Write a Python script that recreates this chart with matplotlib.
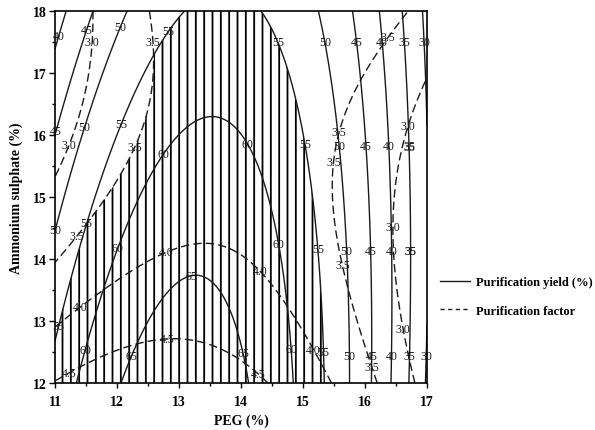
import numpy as np
import matplotlib
matplotlib.use("Agg")
import matplotlib.pyplot as plt
from matplotlib.lines import Line2D

plt.rcParams['font.family'] = ['Liberation Serif', 'DejaVu Serif']

# response surface coefficients read from the contour map
# order: b0, b_peg, b_as, b_peg^2, b_as^2, b_peg*as  (centred variables)
yield_center = [13.4, 15.0]
yield_coef = [62.7, 0.0, -1.95, -2.5, -0.126, 0.51]
factor_center = [13.65, 15.0]
factor_coef = [3.86, 0.0, -0.143, -0.108, 0.0489, 0.0691]

yield_levels = [30, 35, 40, 45, 50, 55, 60, 65]
factor_levels = [3.0, 3.5, 4.0, 4.5]

peg_range = [11, 17]
as_range = [12, 18]

# label positions (PEG, ammonium sulphate)
yield_label_pos = [(11.11, 17.58), (11.53, 17.68), (11.08, 16.05), (12.08, 17.73),
                   (11.53, 16.11), (11.08, 14.45), (12.82, 17.68), (12.13, 16.15),
                   (11.56, 14.56), (11.08, 12.92), (12.05, 14.16), (11.45, 12.55),
                   (12.8, 15.66), (14.1, 15.85), (14.6, 14.24), (14.82, 12.55),
                   (12.18, 12.45), (13.2, 13.75), (14.11, 12.5),
                   (14.6, 17.5), (15.0, 15.85), (15.23, 14.16), (15.35, 12.5),
                   (15.35, 17.5), (15.52, 15.82), (15.68, 14.13), (15.73, 12.44),
                   (15.87, 17.5), (15.97, 15.82), (16.05, 14.13), (16.08, 12.44),
                   (16.27, 17.5), (16.32, 15.82), (16.4, 14.13), (16.4, 12.44),
                   (16.63, 17.5), (16.65, 15.82), (16.69, 14.13), (16.71, 12.44),
                   (16.92, 17.5), (16.93, 15.82), (16.95, 14.13), (16.95, 12.44)]
factor_label_pos = [(11.56, 17.5), (11.21, 15.84), (16.68, 16.15), (16.44, 14.52),
                    (16.6, 12.87), (12.53, 17.5), (12.24, 15.82), (11.32, 14.4),
                    (16.37, 17.58), (15.56, 16.06), (15.47, 15.56), (15.63, 13.9),
                    (16.11, 12.26), (11.37, 13.27), (12.77, 14.18), (14.34, 13.84),
                    (15.2, 12.55), (11.21, 12.19), (12.8, 12.76), (14.3, 12.18)]


def surface(coef, center, X, Y):
    v = X - center[0]
    u = Y - center[1]
    return (coef[0] + coef[1]*v + coef[2]*u + coef[3]*v**2
            + coef[4]*u**2 + coef[5]*u*v)


x = np.linspace(peg_range[0], peg_range[1], 400)
y = np.linspace(as_range[0], as_range[1], 400)
X, Y = np.meshgrid(x, y)
Zy = surface(yield_coef, yield_center, X, Y)
Zf = surface(factor_coef, factor_center, X, Y)

fig = plt.figure(figsize=(5.95, 4.31), dpi=100)
ax = fig.add_axes([0.0924, 0.109, 0.6252, 0.863])

# hatched optimum region: yield >= 55 and factor >= 3.5
opt = np.minimum((Zy - 55) / 5.0, (Zf - 3.5) / 0.5)
plt.rcParams['hatch.linewidth'] = 1.3
hc = ax.contourf(X, Y, opt, levels=[0, 100], colors='none', hatches=['||'])
hc.set_edgecolor('k')
hc.set_linewidth(0)

cs1 = ax.contour(X, Y, Zy, levels=yield_levels, colors='#1a1a1a', linewidths=1.0)
cs2 = ax.contour(X, Y, Zf, levels=factor_levels, colors='#1a1a1a', linewidths=1.0,
                 linestyles=[(0, (6, 3))])

t1 = ax.clabel(cs1, fmt='%d', inline=False, fontsize=8.5, manual=yield_label_pos)
t2 = ax.clabel(cs2, fmt='%.1f', inline=False, fontsize=8.5, manual=factor_label_pos)
for t in list(t1) + list(t2):
    t.set_rotation(0)
    t.set_clip_on(False)

ax.set_xlim(peg_range)
ax.set_ylim(as_range)
ax.set_xticks(range(11, 18))
ax.set_yticks(range(12, 19))
ax.set_xticks(np.arange(11, 17.01, 0.5), minor=True)
ax.set_yticks(np.arange(12, 18.01, 0.5), minor=True)
ax.tick_params(axis='x', which='major', direction='out', length=3.5, width=1,
               pad=5, labelsize=10)
ax.tick_params(axis='x', which='minor', direction='out', length=2.5, width=1)
ax.tick_params(axis='y', which='major', direction='out', length=4, width=1,
               pad=2, labelsize=10)
ax.tick_params(axis='y', which='minor', direction='out', length=2.5, width=1)
for lab in ax.get_xticklabels() + ax.get_yticklabels():
    lab.set_fontweight('bold')
for s in ax.spines.values():
    s.set_linewidth(1.2)

ax.set_xlabel('PEG (%)', fontsize=10, fontweight='bold', labelpad=4)
ax.set_ylabel('Ammonium sulphate (%)', fontsize=10, fontweight='bold', labelpad=7)

handles = [Line2D([], [], color='#1a1a1a', lw=1.0),
           Line2D([], [], color='#1a1a1a', lw=1.0, linestyle=(0, (3, 2.5)))]
ax.legend(handles, ['Purification yield (%)', 'Purification factor'],
          loc='center left', bbox_to_anchor=(1.035, 0.2325), frameon=False,
          borderaxespad=0, borderpad=0, handlelength=2.4, handletextpad=0.5,
          labelspacing=1.3, prop={'weight': 'bold', 'size': 9})

fig.savefig('out.png', dpi=100)
